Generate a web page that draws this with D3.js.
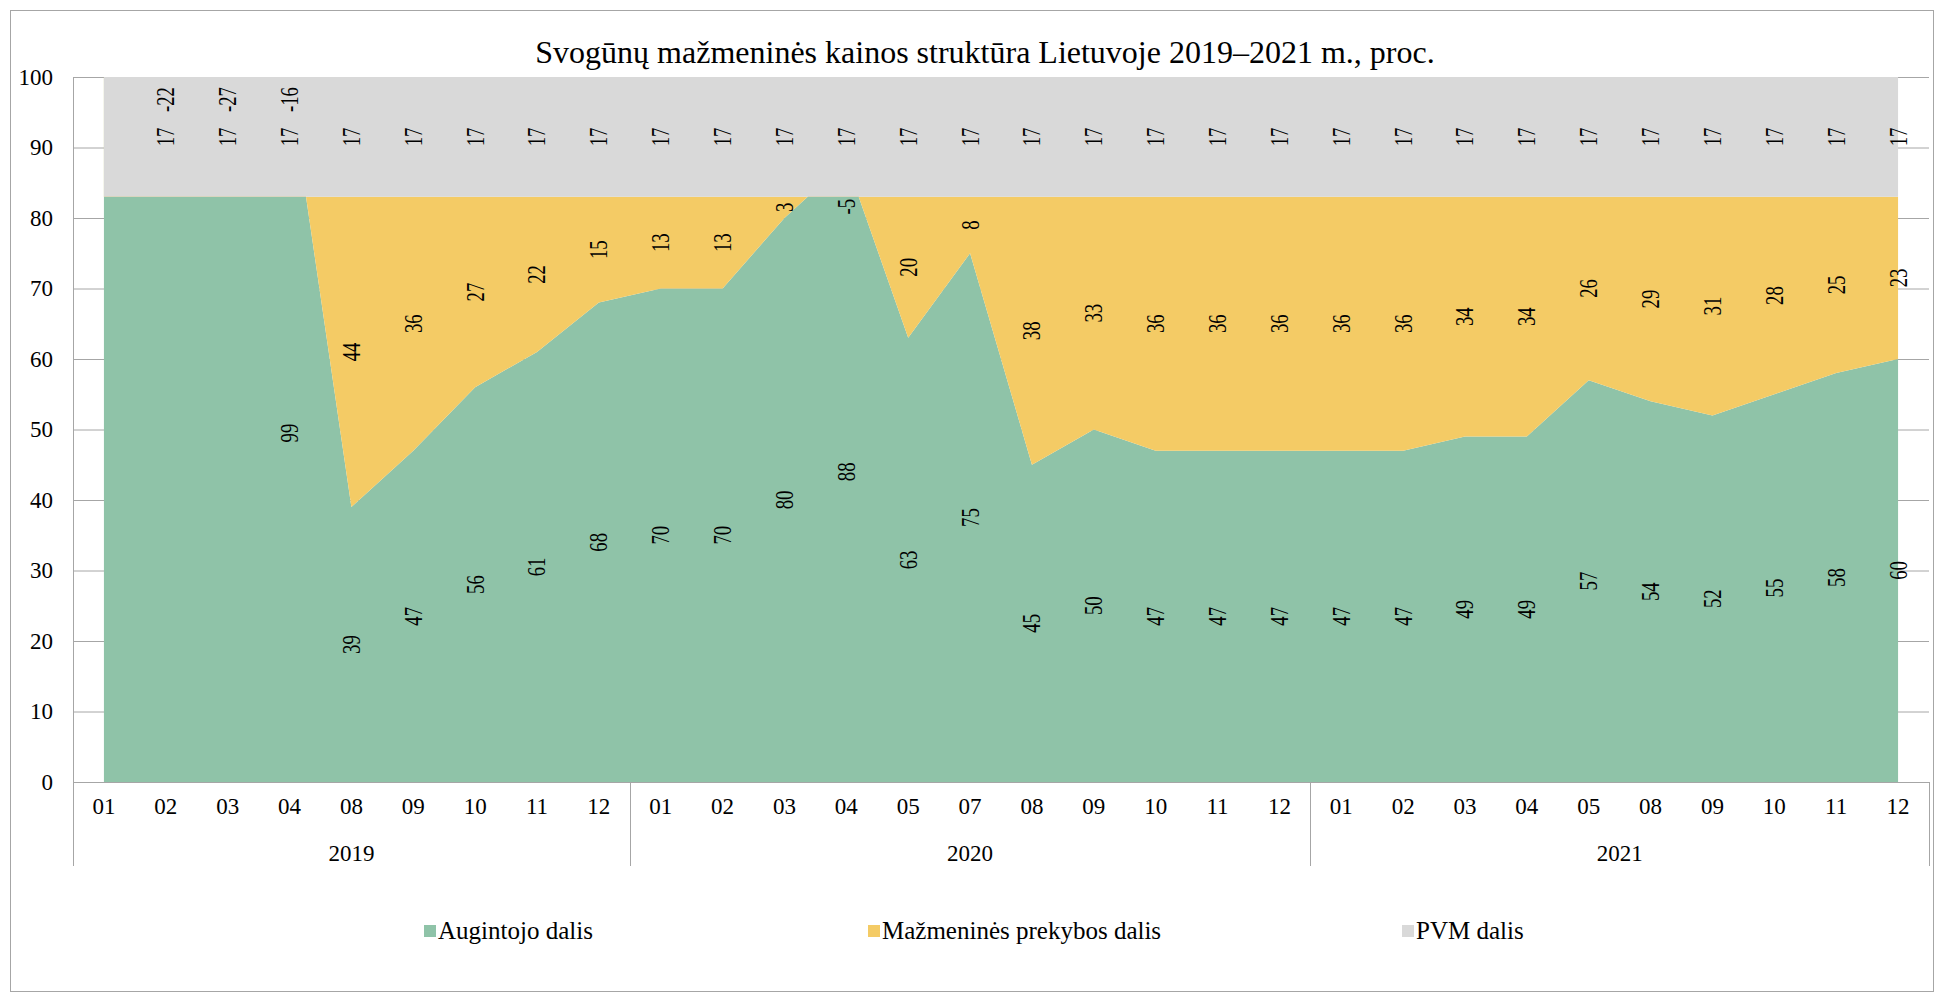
<!DOCTYPE html>
<html>
<head>
<meta charset="utf-8">
<script src="https://cdn.jsdelivr.net/npm/d3@7"></script>
<style>
  body { margin: 0; background: #fff; }
  text { font-family: "Liberation Serif", "Times New Roman", serif; fill: #000; }
</style>
</head>
<body>
<svg id="chart" width="1939" height="997"></svg>
<script>
// Category axis: months grouped by year
const years = ["2019", "2020", "2021"];
const months2019 = ["01", "02", "03", "04", "08", "09", "10", "11", "12"];
const months2020 = ["01", "02", "03", "04", "05", "07", "08", "09", "10", "11", "12"];
const months2021 = ["01", "02", "03", "04", "05", "08", "09", "10", "11", "12"];

// Shares of the retail price, %
const growerShare = [100, 105, 110, 99, 39, 47, 56, 61, 68,
                     70, 70, 80, 88, 63, 75, 45, 50, 47, 47, 47,
                     47, 47, 49, 49, 57, 54, 52, 55, 58, 60];
const retailShare = [-17, -22, -27, -16, 44, 36, 27, 22, 15,
                     13, 13, 3, -5, 20, 8, 38, 33, 36, 36, 36,
                     36, 36, 34, 34, 26, 29, 31, 28, 25, 23];
const vatShare    = [17, 17, 17, 17, 17, 17, 17, 17, 17,
                     17, 17, 17, 17, 17, 17, 17, 17, 17, 17, 17,
                     17, 17, 17, 17, 17, 17, 17, 17, 17, 17];

// Periods whose value labels are not shown
const growerUnlabeled = ["2019-01", "2019-02", "2019-03"];
const retailUnlabeled = ["2019-01"];
const vatUnlabeled    = ["2019-01"];

const seriesNames = ["Augintojo dalis", "Mažmeninės prekybos dalis", "PVM dalis"];
const yTicks = [0, 10, 20, 30, 40, 50, 60, 70, 80, 90, 100];
const titleText = "Svogūnų mažmeninės kainos struktūra Lietuvoje 2019–2021 m., proc.";

// ---- layout ----
const axisLeft = 73, axisRight = 1929, plotTop = 77, plotBottom = 782;
const colors = ["#8fc3a8", "#f4cb65", "#d9d9d9"];
const gridColor = "#a6a6a6";

const svg = d3.select("#chart");

svg.append("rect")
  .attr("x", 10.5).attr("y", 10.5).attr("width", 1923).attr("height", 981)
  .attr("fill", "#fff").attr("stroke", "#a6a6a6").attr("stroke-width", 1);

svg.append("text")
  .attr("x", 985).attr("y", 63)
  .attr("text-anchor", "middle")
  .style("font-size", "32px")
  .text(titleText);

const monthsByYear = [months2019, months2020, months2021];
const rows = years.flatMap((yr, i) => monthsByYear[i].map(m => ({ key: yr + "-" + m, year: yr, month: m })));

const table = rows.map((r, i) => ({
  key: r.key, grower: growerShare[i], retail: retailShare[i], vat: vatShare[i]
}));

const x = d3.scaleBand().domain(rows.map(r => r.key)).range([axisLeft, axisRight]).padding(0);
const cx = k => x(k) + x.bandwidth() / 2;
const y = d3.scaleLinear().domain([0, 100]).range([plotBottom, plotTop]);

// Value axis with horizontal gridlines
const yAxis = svg.append("g")
  .attr("transform", `translate(${axisLeft},0)`)
  .call(d3.axisLeft(y).tickValues(yTicks).tickSize(-(axisRight - axisLeft)).tickSizeOuter(0).tickPadding(20));
yAxis.select(".domain").attr("stroke", gridColor);
yAxis.selectAll(".tick line").attr("stroke", gridColor);
yAxis.selectAll(".tick text")
  .style("font-size", "23px")
  .style("font-family", "'Liberation Serif', 'Times New Roman', serif")
  .attr("fill", "#000");

// Stacked areas
const keys = ["grower", "retail", "vat"];
const stacked = d3.stack().keys(keys)(table);

svg.append("clipPath").attr("id", "plotClip")
  .append("rect")
  .attr("x", axisLeft).attr("y", plotTop)
  .attr("width", axisRight - axisLeft).attr("height", plotBottom - plotTop);

const area = d3.area()
  .x(d => cx(d.data.key))
  .y0(d => y(d[0]))
  .y1(d => y(d[1]));

svg.append("g").attr("clip-path", "url(#plotClip)")
  .selectAll("path")
  .data(stacked)
  .join("path")
  .attr("d", area)
  .attr("fill", (d, i) => colors[i]);

// Category axis: baseline, month labels, year labels, group separators
svg.append("line")
  .attr("x1", axisLeft).attr("x2", axisRight)
  .attr("y1", plotBottom + 0.5).attr("y2", plotBottom + 0.5)
  .attr("stroke", gridColor);

svg.append("g").selectAll("text")
  .data(rows)
  .join("text")
  .attr("x", d => cx(d.key))
  .attr("y", 814)
  .attr("text-anchor", "middle")
  .style("font-size", "23px")
  .text(d => d.month);

const groups = years.map((yr, i) => {
  const ks = monthsByYear[i].map(m => yr + "-" + m);
  return { year: yr, x0: x(ks[0]), x1: x(ks[ks.length - 1]) + x.bandwidth() };
});

svg.append("g").selectAll("text")
  .data(groups)
  .join("text")
  .attr("x", d => (d.x0 + d.x1) / 2)
  .attr("y", 861)
  .attr("text-anchor", "middle")
  .style("font-size", "23px")
  .text(d => d.year);

const seps = [groups[0].x0, ...groups.map(g => g.x1)];
svg.append("g").selectAll("line")
  .data(seps)
  .join("line")
  .attr("x1", d => Math.round(d) + 0.5).attr("x2", d => Math.round(d) + 0.5)
  .attr("y1", plotBottom).attr("y2", 866)
  .attr("stroke", gridColor);

// Value labels (rotated, reading upward)
const labelFont = 25, labelScale = 0.75;
const unitPx = y(0) - y(1);
const topMargin = 10 / unitPx;
const unlabeled = { grower: growerUnlabeled, retail: retailUnlabeled, vat: vatUnlabeled };
const labelLayer = svg.append("g");

function measure(str) {
  const t = labelLayer.append("text").style("font-size", labelFont + "px").text(str);
  const len = t.node().getComputedTextLength() * labelScale;
  t.remove();
  return len / unitPx; // length in value units
}

const placed = {};
["vat", "grower", "retail"].forEach(key => {
  const s = stacked[keys.indexOf(key)];
  s.forEach(d => {
    const k = d.data.key;
    if (unlabeled[key].includes(k)) return;
    const v = d.data[key];
    const str = String(v);
    const half = measure(str) / 2;
    let c = (d[0] + d[1]) / 2;
    if (key === "retail" && v < 0) {
      const p = placed[k];
      const overlaps = p && c + half > p.lo - 0.5 && c - half < p.hi + 0.5;
      if (d[0] > 100 || overlaps) {
        // band runs past the top of the axis: label goes to the top edge
        c = 100 - topMargin - half;
      } else {
        // otherwise it sits just below the stack's running total
        c = d[1] - half - 0.3;
      }
    }
    c = Math.min(c, 100 - topMargin - half);
    if (key === "vat") placed[k] = { lo: c - half, hi: c + half };
    labelLayer.append("text")
      .attr("transform", `translate(${cx(k)},${y(c)}) rotate(-90) scale(${labelScale},1)`)
      .attr("text-anchor", "middle")
      .attr("dominant-baseline", "central")
      .style("font-size", labelFont + "px")
      .text(str);
  });
});

// Legend
const legendX = [424, 868, 1402];
const legend = svg.append("g").selectAll("g")
  .data(seriesNames)
  .join("g")
  .attr("transform", (d, i) => `translate(${legendX[i]},931)`);
legend.append("rect")
  .attr("x", 0).attr("y", -6).attr("width", 12).attr("height", 12)
  .attr("fill", (d, i) => colors[i]);
legend.append("text")
  .attr("x", 14).attr("y", 8)
  .style("font-size", "25px")
  .text(d => d);
</script>
</body>
</html>
